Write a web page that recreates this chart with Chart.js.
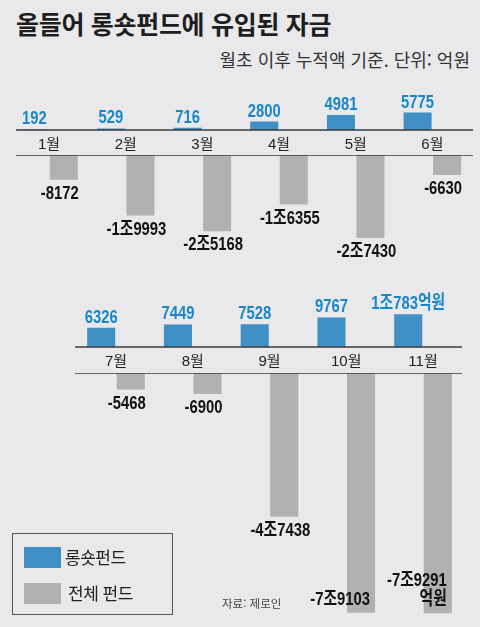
<!DOCTYPE html>
<html lang="ko">
<head>
<meta charset="utf-8">
<script src="https://cdn.jsdelivr.net/npm/chart.js@4.4.1/dist/chart.umd.min.js"></script>
<style>
  body { margin: 0; background: #e9e9eb; }
  #page { position: relative; width: 480px; height: 627px; overflow: hidden;
          font-family: "Noto Sans CJK KR", sans-serif; color: #222; }
  canvas { position: absolute; left: 0; }
  .title { position: absolute; left: 16px; top: 9px; font-size: 25px; line-height: 28px;
           font-weight: bold; color: #1e1e1e; letter-spacing: -0.3px; }
  .sub { position: absolute; right: 10px; top: 49px; font-size: 18px; line-height: 21px; color: #333; }
  .legend { position: absolute; left: 12px; top: 533px; width: 161px; height: 82px; box-sizing: border-box;
            border: 1.5px solid #555; z-index: 2; }
  .legend .sw { position: absolute; left: 11px; width: 37px; height: 21px; }
  .legend .tx { position: absolute; font-size: 17px; line-height: 20px; color: #222; letter-spacing: -0.5px; }
  .source { position: absolute; left: 222px; top: 595px; font-size: 11.5px; line-height: 16px; color: #444; }
</style>
</head>
<body>
<div id="page">
  <div class="title">올들어 롱숏펀드에 유입된 자금</div>
  <div class="sub">월초 이후 누적액 기준. 단위: 억원</div>

  <canvas id="h1Up" width="480" height="75" style="top:80px"></canvas>
  <canvas id="h1Down" width="480" height="135" style="top:155px"></canvas>
  <canvas id="h2Up" width="480" height="83" style="top:290px"></canvas>
  <canvas id="h2Down" width="480" height="254" style="top:373px"></canvas>

  <div class="legend">
    <div class="sw" id="swBlue" style="top:12.5px"></div>
    <div class="tx" style="left:52px; top:13px">롱숏펀드</div>
    <div class="sw" id="swGray" style="top:48.5px"></div>
    <div class="tx" style="left:55px; top:49px">전체 펀드</div>
  </div>
  <div class="source">자료: 제로인</div>
</div>

<script>
// 월별 누적 유입액 (억원)
const monthsH1 = ['1월', '2월', '3월', '4월', '5월', '6월'];
const longShortH1 = [192, 529, 716, 2800, 4981, 5775];
const allFundsH1 = [-8172, -19993, -25168, -16355, -27430, -6630];

const monthsH2 = ['7월', '8월', '9월', '10월', '11월'];
const longShortH2 = [6326, 7449, 7528, 9767, 10783];
const allFundsH2 = [-5468, -6900, -47438, -79103, -79291];

const UNIT_PER_PX = 330;   // 억원 per pixel, shared by all panels
const BLUE = '#4090c5';
const BLUE_TEXT = '#1886c8';
const GRAY = '#b0b1b3';
const RULE = '#3a3a3a';
const NUM_FONT = 'bold 19px "Liberation Sans", "Noto Sans CJK KR", sans-serif';
const NUM_SQUEEZE = 0.78;  // narrow the figures horizontally

document.getElementById('swBlue').style.background = BLUE;
document.getElementById('swGray').style.background = GRAY;

// 19993 -> "1조9993", -8172 -> "-8172"
function eok(v) {
    const abs = Math.abs(v);
    const jo = Math.floor(abs / 10000);
    const rest = abs % 10000;
    return (v < 0 ? '-' : '') + (jo ? jo + '조' + rest : String(rest));
}

function narrowText(ctx, text, x, y, align) {
    ctx.save();
    ctx.translate(x, y);
    ctx.scale(NUM_SQUEEZE, 1);
    ctx.textAlign = align;
    ctx.fillText(text, 0, 0);
    ctx.restore();
}

// horizontal rule along the baseline of each half
const rulePlugin = {
    id: 'rule',
    afterDraw(chart, args, opts) {
        const { ctx, chartArea } = chart;
        const y = opts.side === 'top' ? chartArea.top : chartArea.bottom;
        ctx.save();
        ctx.strokeStyle = RULE;
        ctx.lineWidth = 1.5;
        ctx.beginPath();
        ctx.moveTo(opts.x1, y);
        ctx.lineTo(opts.x2, y);
        ctx.stroke();
        ctx.restore();
    }
};

// value text above positive bars, below negative ones;
// when there is no room under a long bar the text goes inside its end
const valueLabels = {
    id: 'valueLabels',
    afterDatasetsDraw(chart, args, opts) {
        const ctx = chart.ctx;
        ctx.save();
        ctx.font = NUM_FONT;
        chart.data.datasets.forEach((ds, di) => {
            const meta = chart.getDatasetMeta(di);
            meta.data.forEach((bar, i) => {
                const v = ds.data[i];
                if (v == null) return;
                const unit = opts.unitOnLast && i === ds.data.length - 1;
                if (v >= 0) {
                    ctx.fillStyle = BLUE_TEXT;
                    narrowText(ctx, eok(v) + (unit ? '억원' : ''), bar.x, bar.y - 5, 'center');
                    return;
                }
                ctx.fillStyle = '#111';
                const lineH = 19;
                const below = bar.y + 19;
                if (below + 6 <= chart.height) {
                    narrowText(ctx, eok(v) + (unit ? '억원' : ''), bar.x - 4, below, 'center');
                } else {
                    const lines = unit ? [eok(v), '억원'] : [eok(v)];
                    const right = bar.x + bar.width / 2 - 5;
                    lines.forEach((t, k) => {
                        narrowText(ctx, t, right, bar.y - 8 - (lines.length - 1 - k) * lineH, 'right');
                    });
                }
            });
        });
        ctx.restore();
    }
};

function baseOptions(pad, rule, unitOnLast) {
    return {
        responsive: false,
        animation: false,
        events: [],
        layout: { padding: { left: pad[0], right: pad[1], top: 0, bottom: 0 } },
        datasets: { bar: { categoryPercentage: 0.77, barPercentage: 0.95 } },
        plugins: {
            legend: { display: false },
            tooltip: { enabled: false },
            rule,
            valueLabels: { unitOnLast }
        }
    };
}

// blue bars rising from the upper rule, month names underneath
function upChart(id, labels, values, pad, rule, axisHeight, unitOnLast) {
    const canvas = document.getElementById(id);
    const areaH = canvas.height - axisHeight;
    const options = baseOptions(pad, { ...rule, side: 'bottom' }, unitOnLast);
    options.scales = {
        x: {
            position: 'bottom',
            grid: { display: false, drawTicks: false },
            border: { display: false },
            ticks: {
                padding: 6, color: '#222', maxRotation: 0, autoSkip: false,
                font: { family: '"Liberation Sans", "Noto Sans CJK KR", sans-serif', size: 15, lineHeight: 1.2 }
            },
            afterFit(scale) { scale.height = axisHeight; }
        },
        y: { display: false, min: 0, max: areaH * UNIT_PER_PX }
    };
    return new Chart(canvas, {
        type: 'bar',
        data: {
            labels,
            datasets: [
                { label: '롱숏펀드', data: values, backgroundColor: BLUE },
                { label: '전체 펀드', data: values.map(() => null), backgroundColor: GRAY }
            ]
        },
        options,
        plugins: [rulePlugin, valueLabels]
    });
}

// gray bars hanging from the lower rule
function downChart(id, labels, values, pad, rule, unitOnLast) {
    const canvas = document.getElementById(id);
    const options = baseOptions(pad, { ...rule, side: 'top' }, unitOnLast);
    options.scales = {
        x: { display: false },
        y: { display: false, min: -canvas.height * UNIT_PER_PX, max: 0 }
    };
    return new Chart(canvas, {
        type: 'bar',
        data: {
            labels,
            datasets: [
                { label: '롱숏펀드', data: values.map(() => null), backgroundColor: BLUE },
                { label: '전체 펀드', data: values, backgroundColor: GRAY }
            ]
        },
        options,
        plugins: [rulePlugin, valueLabels]
    });
}

const padH1 = [10.7, 9.3];
const padH2 = [77.6, 18.6];
const ruleH1 = { x1: 16, x2: 473 };
const ruleH2 = { x1: 75, x2: 462 };

upChart('h1Up', monthsH1, longShortH1, padH1, ruleH1, 25, false);
downChart('h1Down', monthsH1, allFundsH1, padH1, ruleH1, false);
upChart('h2Up', monthsH2, longShortH2, padH2, ruleH2, 26, true);
downChart('h2Down', monthsH2, allFundsH2, padH2, ruleH2, true);
</script>
</body>
</html>
